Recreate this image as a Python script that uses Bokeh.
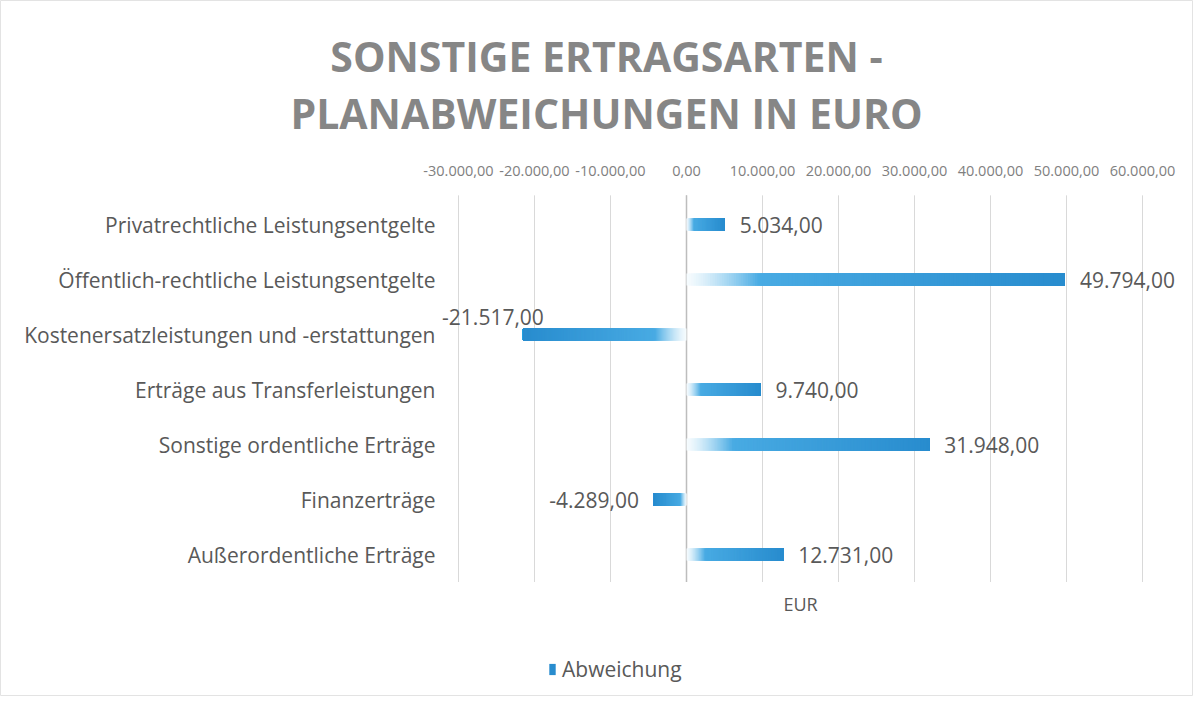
from bokeh.plotting import figure
from bokeh.models import Range1d, ColumnDataSource, Label, Legend, LegendItem
from bokeh.embed import file_html
from bokeh.resources import INLINE
from bokeh.core.properties import value

# ---- data ----
categories = ["Privatrechtliche Leistungsentgelte",
              "Öffentlich-rechtliche Leistungsentgelte",
              "Kostenersatzleistungen und -erstattungen",
              "Erträge aus Transferleistungen",
              "Sonstige ordentliche Erträge",
              "Finanzerträge",
              "Außerordentliche Erträge"]
abweichung = [5034, 49794, -21517, 9740, 31948, -4289, 12731]
value_labels = ["5.034,00", "49.794,00", "-21.517,00", "9.740,00",
                "31.948,00", "-4.289,00", "12.731,00"]
tick_values = [-30000, -20000, -10000, 0, 10000, 20000, 30000, 40000, 50000, 60000]
tick_labels = ["-30.000,00", "-20.000,00", "-10.000,00", "0,00", "10.000,00",
               "20.000,00", "30.000,00", "40.000,00", "50.000,00", "60.000,00"]
series_name = "Abweichung"
axis_title = "EUR"
title_lines = ["SONSTIGE ERTRAGSARTEN -", "PLANABWEICHUNGEN IN EURO"]

FONT = "Open Sans"
TXT = "#595959"
W, H = 1193, 696

# plot area geometry (pixels) -> data ranges
px_left, px_right = 458.0, 1142.0          # where x = -30000 and x = 60000 fall
xmin, xmax = tick_values[0], tick_values[-1]
k = (px_right - px_left) / (xmax - xmin)
x_start = xmin - px_left / k
x_end = xmax + (W - px_right) / k

n = len(categories)
row_px = 55.0
first_row_px = 224.0
y_top = (n - 1) + first_row_px / row_px
y_bot = (n - 1) - (H - first_row_px) / row_px
ypos = [n - 1 - i for i in range(n)]

p = figure(width=W, height=H,
           x_range=Range1d(x_start, x_end), y_range=Range1d(y_bot, y_top),
           output_backend="svg", toolbar_location=None,
           min_border=0)
p.axis.visible = False
p.grid.visible = False
p.outline_line_color = "#e3e3e3"
p.background_fill_color = "white"
p.border_fill_color = "white"

# grid lines + zero line
g_lo, g_hi = -0.5, n - 0.47
p.segment(x0=tick_values, x1=tick_values, y0=[g_lo] * len(tick_values),
          y1=[g_hi] * len(tick_values), line_color="#d9d9d9", line_width=1)
p.segment(x0=[0], x1=[0], y0=[g_lo], y1=[g_hi], line_color="#bdbdbd", line_width=1.5)

# gradient bars built from overlapping slices (each slice runs to the bar end,
# later slices are painted on top -> no seams)
N = 160
c0 = (80, 178, 232)
c1 = (40, 140, 206)
rows = {"y": [], "left": [], "right": [], "color": []}
last_idx = None
for yv, v in zip(ypos, abweichung):
    for i in range(N):
        t0 = i / N
        tm = (i + 0.5) / N
        a = min(1.0, 0.05 + (tm / 0.2) ** 1.3)
        base = [c0[j] + (c1[j] - c0[j]) * tm for j in range(3)]
        col = [int(round(255 * (1 - a) + base[j] * a)) for j in range(3)]
        lo, hi = sorted([v * t0, v])
        rows["y"].append(yv)
        rows["left"].append(lo)
        rows["right"].append(hi)
        rows["color"].append("#%02x%02x%02x" % tuple(col))
    if last_idx is None:
        last_idx = len(rows["y"]) - 1
src = ColumnDataSource(rows)
bars = p.hbar(y="y", left="left", right="right", height=0.22, fill_color="color",
              line_color=None, source=src)

# data labels
dx, dy, al = [], [], []
for v in abweichung:
    if v >= 0:
        dx.append(15); dy.append(0); al.append("left")
    elif v > -15000:
        dx.append(-15); dy.append(0); al.append("right")
    else:
        dx.append(-30); dy.append(-18); al.append("center")
lsrc = ColumnDataSource(dict(x=abweichung, y=ypos, text=value_labels, dx=dx, dy=dy, al=al))
p.text(x="x", y="y", text="text", x_offset="dx", y_offset="dy", text_align="al",
       text_baseline="middle", text_font=value(FONT), text_font_size="21px",
       text_color=TXT, source=lsrc)

# category labels (left axis)
p.text(x=[xmin] * n, y=ypos, text=categories, x_offset=-23, text_align="right",
       text_baseline="middle", text_font=value(FONT), text_font_size="21px",
       text_color=TXT)

# tick labels (top axis)
p.text(x=tick_values, y=[g_hi] * len(tick_values), text=tick_labels, y_offset=-24,
       text_align="center", text_baseline="middle", text_font=value(FONT),
       text_font_size="14.5px", text_color="#808080")

# titles
for txt, yy in zip(title_lines, [H - 55, H - 112]):
    p.add_layout(Label(x=606, y=yy, x_units="screen", y_units="screen", text=txt,
                       text_align="center", text_baseline="middle", text_font=FONT,
                       text_font_size="41px", text_font_style="bold",
                       text_color="#868686"))
p.add_layout(Label(x=800, y=H - 603, x_units="screen", y_units="screen", text=axis_title,
                   text_align="center", text_baseline="middle", text_font=FONT,
                   text_font_size="18px", text_color=TXT))

legend = Legend(items=[LegendItem(label=series_name, renderers=[bars], index=last_idx)],
                location=(548, H - 683), orientation="horizontal",
                padding=0, margin=0, spacing=0, glyph_width=8, glyph_height=14,
                label_standoff=6, border_line_color=None, background_fill_alpha=0,
                label_text_font=FONT, label_text_font_size="21px", label_text_color=TXT)
p.add_layout(legend)

open("out.html", "w").write(file_html(p, INLINE))
